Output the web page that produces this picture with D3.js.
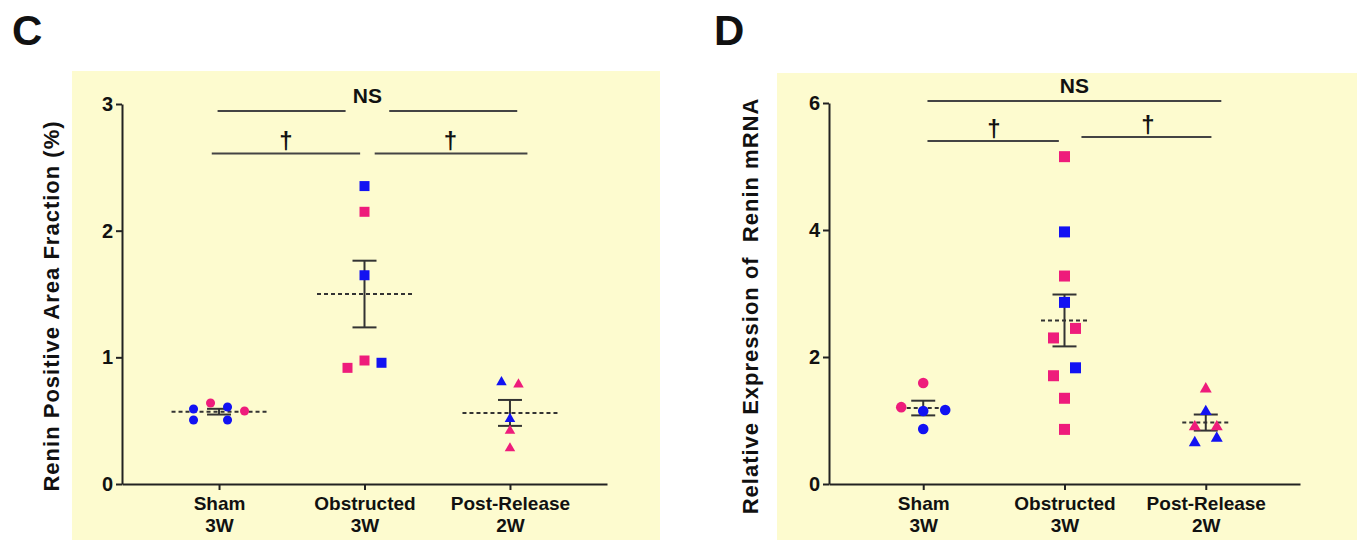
<!DOCTYPE html>
<html>
<head>
<meta charset="utf-8">
<script src="https://cdn.jsdelivr.net/npm/d3@7/dist/d3.min.js"></script>
<style>
  body { margin: 0; background: #fff; }
  text { font-family: "Liberation Sans", Arial, sans-serif; font-weight: bold; fill: #111; }
</style>
</head>
<body>
<div id="chart"></div>
<script>
// categories (two-line labels split on "|")
var groups = ["Sham|3W", "Obstructed|3W", "Post-Release|2W"];

// panel C: renin positive area fraction (%)
var cSham = [0.592, 0.505, 0.640, 0.608, 0.505, 0.576];
var cShamSub = ["B", "B", "A", "B", "B", "A"];
var cShamLane = [-1.5, -1.5, -0.5, 0.5, 0.5, 1.5];
var cObs = [2.352, 2.149, 1.648, 0.975, 0.917, 0.957];
var cObsSub = ["B", "A", "B", "A", "A", "B"];
var cObsLane = [0, 0, 0, 0, -1, 1];
var cPost = [0.804, 0.786, 0.514, 0.420, 0.282];
var cPostSub = ["B", "A", "B", "A", "A"];
var cPostLane = [-0.5, 0.5, 0, 0, 0];
var cTicks = [0, 1, 2, 3];

// panel D: relative expression of renin mRNA
var dSham = [1.59, 1.21, 1.15, 1.165, 0.866];
var dShamSub = ["A", "A", "B", "B", "B"];
var dShamLane = [0, -1, 0, 1, 0];
var dObs = [5.155, 3.97, 3.275, 2.86, 2.45, 2.30, 1.83, 1.705, 1.35, 0.86];
var dObsSub = ["A", "B", "A", "B", "A", "A", "B", "A", "A", "A"];
var dObsLane = [0, 0, 0, 0, 0.5, -0.5, 0.5, -0.5, 0, 0];
var dPost = [1.496, 1.14, 0.90, 0.90, 0.65, 0.72];
var dPostSub = ["A", "B", "A", "A", "B", "B"];
var dPostLane = [0, 0, -0.5, 0.5, -0.5, 0.5];
var dTicks = [0, 2, 4, 6];

// significance marks: [from, to] in category index, y in data units
var cSig = [
  {label: "NS", spans: [[-0.01, 0.87], [1.17, 2.05]], y: 2.945, at: 1.02},
  {label: "\u2020", spans: [[-0.05, 0.97]], y: 2.61, at: 0.46},
  {label: "\u2020", spans: [[1.07, 2.12]], y: 2.61, at: 1.59}
];
var dSig = [
  {label: "NS", spans: [[0.03, 2.11]], y: 6.03, at: 1.07},
  {label: "\u2020", spans: [[0.03, 0.96]], y: 5.40, at: 0.50},
  {label: "\u2020", spans: [[1.12, 2.04]], y: 5.465, at: 1.59}
];

var pink = "#ee1c7b", blue = "#1212f2";
var shapes = [d3.symbolCircle, d3.symbolSquare, d3.symbolTriangle];

var svg = d3.select("#chart").append("svg")
  .attr("width", 1357).attr("height", 540);

function drawPanel(p) {
  svg.append("rect")
    .attr("x", p.bg[0]).attr("y", p.bg[1])
    .attr("width", p.bg[2]).attr("height", p.bg[3])
    .attr("fill", "#fdfbcf");

  svg.append("text")
    .attr("x", p.letterX).attr("y", 45)
    .style("font-size", "42px")
    .text(p.letter);

  var x = d3.scalePoint().domain(groups).range([p.x0, p.x1]).padding(0.667);
  var idx = d3.scaleLinear().domain([0, 2]).range([x(groups[0]), x(groups[2])]);
  var y = d3.scaleLinear().domain([0, p.yMax]).range([484, p.yTop]);

  var ax = svg.append("g")
    .attr("transform", "translate(" + p.x0 + ",0)")
    .call(d3.axisLeft(y).tickValues(p.ticks).tickFormat(d3.format("d"))
      .tickSize(6).tickSizeOuter(0).tickPadding(3));
  ax.selectAll("text").style("font-size", "20px").style("font-family", null);

  var bx = svg.append("g")
    .attr("transform", "translate(0,484)")
    .call(d3.axisBottom(x).tickSize(6).tickSizeOuter(0).tickFormat(""));
  bx.selectAll(".tick").append("text")
    .attr("text-anchor", "middle")
    .style("font-size", "19px")
    .each(function(d) {
      var parts = d.split("|");
      d3.select(this).append("tspan").attr("x", 0).attr("y", 26).text(parts[0]);
      d3.select(this).append("tspan").attr("x", 0).attr("y", 48).text(parts[1]);
    });
  svg.selectAll(".domain, .tick line").attr("stroke", "#222").attr("stroke-width", 2);

  svg.append("text")
    .attr("transform", "translate(" + p.labelX + ",306) rotate(-90)")
    .attr("text-anchor", "middle")
    .style("font-size", "22px")
    .style("letter-spacing", "1px")
    .text(p.yLabel);

  // significance lines
  p.sig.forEach(function(s) {
    s.spans.forEach(function(sp) {
      svg.append("line")
        .attr("x1", idx(sp[0])).attr("x2", idx(sp[1]))
        .attr("y1", y(s.y)).attr("y2", y(s.y))
        .attr("stroke", "#444").attr("stroke-width", 2);
    });
    svg.append("text")
      .attr("x", idx(s.at))
      .attr("y", y(s.y) - (s.label == "NS" ? 8 : 4))
      .attr("text-anchor", "middle")
      .style("font-size", s.label == "NS" ? "21px" : "24px")
      .text(s.label);
  });

  p.series.forEach(function(ser, i) {
    var cx = x(groups[i]);
    var m = d3.mean(ser.v);
    var se = d3.deviation(ser.v) / Math.sqrt(ser.v.length);

    svg.append("line")
      .attr("x1", cx - p.meanW / 2).attr("x2", cx + p.meanW / 2)
      .attr("y1", y(m)).attr("y2", y(m))
      .attr("stroke", "#333").attr("stroke-width", 2)
      .attr("stroke-dasharray", "4,3");
    svg.append("line")
      .attr("x1", cx).attr("x2", cx)
      .attr("y1", y(m + se)).attr("y2", y(m - se))
      .attr("stroke", "#333").attr("stroke-width", 2);
    [m + se, m - se].forEach(function(e) {
      svg.append("line")
        .attr("x1", cx - p.capW / 2).attr("x2", cx + p.capW / 2)
        .attr("y1", y(e)).attr("y2", y(e))
        .attr("stroke", "#333").attr("stroke-width", 2);
    });

    var pts = ser.v.map(function(v, j) { return {v: v, sub: ser.sub[j], lane: ser.lane[j]}; });
    svg.selectAll(null)
      .data(pts)
      .enter()
      .append("path")
      .attr("d", d3.symbol().type(shapes[i]).size(p.sizes[i]))
      .attr("transform", function(d) {
        return "translate(" + (cx + d.lane * p.lane) + "," + y(d.v) + ")";
      })
      .attr("fill", function(d) { return d.sub == "A" ? pink : blue; });
  });
}

drawPanel({
  letter: "C", letterX: 12,
  bg: [72, 71, 588, 469],
  x0: 122, x1: 607, yTop: 104, yMax: 3, ticks: cTicks,
  labelX: 59, yLabel: "Renin Positive Area Fraction (%)",
  lane: 17, meanW: 95, capW: 24, sizes: [64, 100, 48],
  sig: cSig,
  series: [
    {v: cSham, sub: cShamSub, lane: cShamLane},
    {v: cObs, sub: cObsSub, lane: cObsLane},
    {v: cPost, sub: cPostSub, lane: cPostLane}
  ]
});

drawPanel({
  letter: "D", letterX: 714,
  bg: [777, 73, 580, 467],
  x0: 829, x1: 1300, yTop: 103, yMax: 6, ticks: dTicks,
  labelX: 758, yLabel: "Relative Expression of \u00a0Renin mRNA",
  lane: 22, meanW: 47, capW: 24, sizes: [88, 121, 62],
  sig: dSig,
  series: [
    {v: dSham, sub: dShamSub, lane: dShamLane},
    {v: dObs, sub: dObsSub, lane: dObsLane},
    {v: dPost, sub: dPostSub, lane: dPostLane}
  ]
});
</script>
</body>
</html>
